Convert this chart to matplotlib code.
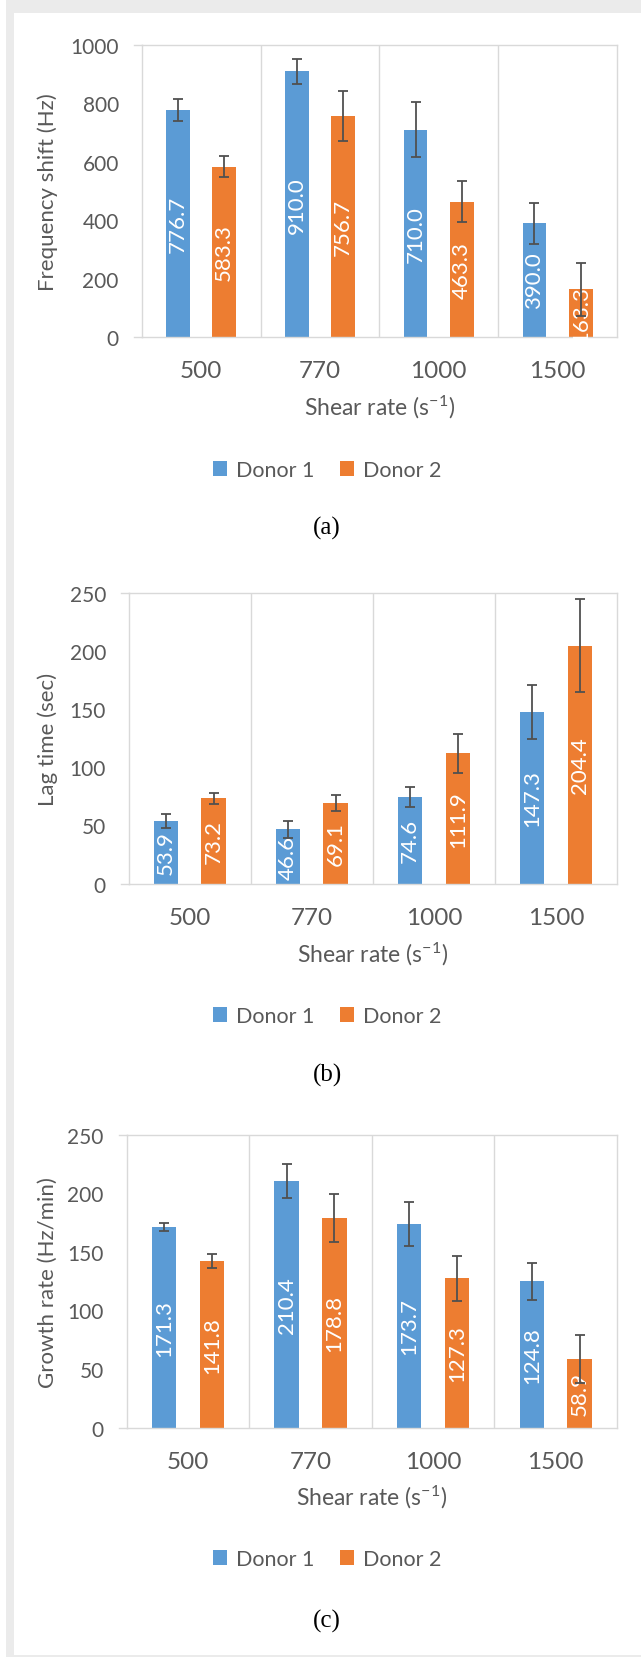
import matplotlib
matplotlib.use("Agg")
import matplotlib.pyplot as plt
from matplotlib.patches import Rectangle, Patch
import numpy as np

# ---------------- data ----------------
categories = ["500", "770", "1000", "1500"]
series_names = ["Donor 1", "Donor 2"]

freq_d1 = [776.7, 910.0, 710.0, 390.0]
freq_d1_err = [38, 42, 95, 70]
freq_d2 = [583.3, 756.7, 463.3, 163.3]
freq_d2_err = [35, 85, 70, 90]

lag_d1 = [53.9, 46.6, 74.6, 147.3]
lag_d1_err = [6, 7, 8.5, 23]
lag_d2 = [73.2, 69.1, 111.9, 204.4]
lag_d2_err = [5, 7, 16.5, 40]

growth_d1 = [171.3, 210.4, 173.7, 124.8]
growth_d1_err = [3.5, 14.5, 19, 16]
growth_d2 = [141.8, 178.8, 127.3, 58.9]
growth_d2_err = [6, 20.5, 19, 20.5]

ylabels = ["Frequency shift (Hz)", "Lag time (sec)", "Growth rate (Hz/min)"]
yticks_list = [[0, 200, 400, 600, 800, 1000], [0, 50, 100, 150, 200, 250], [0, 50, 100, 150, 200, 250]]
captions = ["(a)", "(b)", "(c)"]
xlabel = "Shear rate (s$^{-1}$)"

# ---------------- style ----------------
BLUE = "#5B9BD5"
ORANGE = "#ED7D31"
TXT = "#595959"
GRID = "#d9d9d9"
ERR = "#505050"
FRAME = "#ebebeb"

plt.rcParams["font.family"] = ["Lato", "DejaVu Sans"]
plt.rcParams["mathtext.fontset"] = "custom"
plt.rcParams["mathtext.rm"] = "Lato"
plt.rcParams["mathtext.it"] = "Lato:italic"
plt.rcParams["mathtext.default"] = "regular"

W, H = 641, 1658
fig = plt.figure(figsize=(W / 100, H / 100), dpi=100)
fig.patch.set_facecolor("white")
fig.add_artist(Rectangle((6 / W, 0), 1 - 6 / W, 1, transform=fig.transFigure,
                         facecolor=FRAME, edgecolor="none", zorder=-10))
fig.add_artist(Rectangle((14 / W, 2 / H), (W - 14) / W, (1656 - 14) / H, transform=fig.transFigure,
                         facecolor="white", edgecolor="none", zorder=-9))

# panel layout in pixels: left, right, top, bottom
panels_px = [(141.7, 617, 46, 338), (128.8, 617, 593.6, 884.6), (126.7, 617, 1135.7, 1428.6)]
xlabel_y = [407, 954, 1497]
legend_y = [471, 1017, 1560]
caption_y = [528, 1075, 1621]

datasets = [
    (freq_d1, freq_d1_err, freq_d2, freq_d2_err),
    (lag_d1, lag_d1_err, lag_d2, lag_d2_err),
    (growth_d1, growth_d1_err, growth_d2, growth_d2_err),
]

width = 0.2
off = 0.195
x = np.arange(len(categories))

for i, (d1, e1, d2, e2) in enumerate(datasets):
    L, R, T, B = panels_px[i]
    ax = fig.add_axes([L / W, 1 - B / H, (R - L) / W, (B - T) / H])
    ax.set_facecolor("white")
    yt = yticks_list[i]
    ax.set_ylim(yt[0], yt[-1])
    ax.set_xlim(-0.5, len(categories) - 0.5)

    bars1 = ax.bar(x - off, d1, width, color=BLUE, zorder=2, label=series_names[0])
    bars2 = ax.bar(x + off, d2, width, color=ORANGE, zorder=2, label=series_names[1])
    ax.errorbar(x - off, d1, yerr=e1, fmt="none", ecolor=ERR, elinewidth=1.3,
                capsize=3.8, capthick=1.3, zorder=4)
    ax.errorbar(x + off, d2, yerr=e2, fmt="none", ecolor=ERR, elinewidth=1.3,
                capsize=3.8, capthick=1.3, zorder=4)

    for bars, vals in ((bars1, d1), (bars2, d2)):
        for b, v in zip(bars, vals):
            t = ax.text(b.get_x() + b.get_width() / 2, v / 2, f"{v:.1f}", rotation=90,
                        ha="center", va="center", color="white", fontsize=16, zorder=3)
            t.set_clip_path(b)

    ax.set_yticks(yt)
    ax.set_yticklabels([str(v) for v in yt])
    ax.set_xticks(x)
    ax.set_xticklabels(categories)
    ax.set_xticks(np.arange(0.5, len(categories) - 0.5, 1), minor=True)
    ax.grid(which="minor", axis="x", color=GRID, linewidth=1.0, zorder=0)
    ax.grid(which="major", axis="both", visible=False)
    ax.tick_params(axis="y", which="both", length=0, pad=16.5, labelsize=15, labelcolor=TXT)
    ax.tick_params(axis="x", which="both", length=0, pad=16.5, labelsize=17.5, labelcolor=TXT)
    for s in ax.spines.values():
        s.set_color(GRID)
        s.set_linewidth(1.0)

    # top/bottom lines extend slightly left of the plot area
    dx = 8 / (R - L)
    for yv in (0, 1):
        ax.plot([-dx, 0], [yv, yv], transform=ax.transAxes, color=GRID, lw=1.0, clip_on=False)

    fig.text(48 / W, 1 - ((T + B) / 2) / H, ylabels[i], rotation=90, ha="center", va="center",
             fontsize=16, color=TXT)
    fig.text(((L + R) / 2) / W, 1 - xlabel_y[i] / H, xlabel, ha="center", va="center",
             fontsize=16.5, color=TXT)

    handles = [Patch(facecolor=BLUE, edgecolor="none"), Patch(facecolor=ORANGE, edgecolor="none")]
    fig.legend(handles, series_names, loc="center", bbox_to_anchor=(327 / W, 1 - legend_y[i] / H),
               ncol=2, frameon=False, fontsize=15.5, labelcolor=TXT, handlelength=0.65,
               handleheight=0.65, handletextpad=0.4, columnspacing=1.2,
               bbox_transform=fig.transFigure)

    fig.text(327 / W, 1 - caption_y[i] / H, captions[i], ha="center", va="center",
             fontsize=18, color="black", family=["Liberation Serif", "DejaVu Serif"])

fig.savefig("out.png", dpi=100)
